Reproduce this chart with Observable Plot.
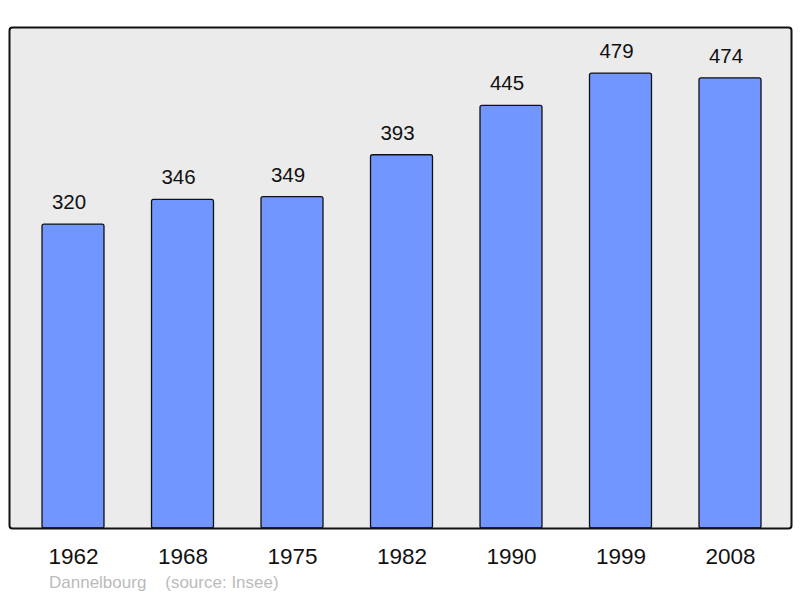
<!DOCTYPE html>
<html>
<head>
<meta charset="utf-8">
<script src="https://cdn.jsdelivr.net/npm/d3@7"></script>
<script src="https://cdn.jsdelivr.net/npm/@observablehq/plot@0.6"></script>
<style>
  body { margin: 0; background: #fff; font-family: "Liberation Sans", Arial, sans-serif; }
  #chart { position: relative; width: 800px; height: 598px; }
  #caption { position: absolute; left: 49px; top: 573px; font-size: 17px; color: #bbbbbb; white-space: pre; line-height: 20px; }
</style>
</head>
<body>
<div id="chart"></div>
<script>
const years = ["1962", "1968", "1975", "1982", "1990", "1999", "2008"];
const population = [320, 346, 349, 393, 445, 479, 474];
const placeName = "Dannelbourg";
const sourceText = "(source: Insee)";

const data = years.map((y, i) => ({year: y, pop: population[i]}));

const plot = Plot.plot({
  width: 800,
  height: 574,
  marginLeft: 9,
  marginRight: 9,
  marginTop: 27,
  marginBottom: 46,
  style: {fontFamily: "Liberation Sans, Arial, sans-serif", background: "white"},
  x: {domain: years, range: [18.25, 784.75], paddingInner: 0.434, paddingOuter: 0.217, round: false, label: null},
  y: {domain: [0, 527.5], axis: null},
  marks: [
    Plot.frame({fill: "#ebebeb", stroke: "none", rx: 3}),
    Plot.barY(data, {x: "year", y: "pop", fill: "#7196ff", stroke: "#111", strokeWidth: 1.3, rx: 2}),
    Plot.text(data, {x: "year", y: "pop", text: d => String(d.pop), dy: -22, dx: -4.5, fontSize: 20.5, fill: "#111"}),
    Plot.frame({fill: "none", stroke: "#111", strokeWidth: 2, rx: 3}),
    Plot.axisX({tickSize: 0, tickPadding: 20, fontSize: 22.5, fill: "#111", label: null})
  ]
});
document.getElementById("chart").appendChild(plot);
const cap = document.createElement("div");
cap.id = "caption";
cap.textContent = placeName + "    " + sourceText;
document.getElementById("chart").appendChild(cap);
</script>
</body>
</html>
